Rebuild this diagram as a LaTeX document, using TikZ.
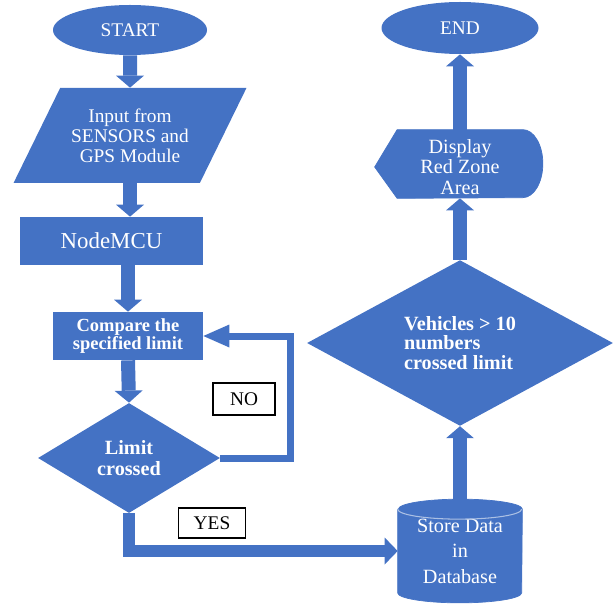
\documentclass[tikz,border=0pt]{standalone}
\usepackage{fontspec}
\setmainfont{Liberation Serif}
\usetikzlibrary{shapes.geometric,arrows.meta,backgrounds}
\definecolor{flowblue}{RGB}{68,114,196}
\tikzset{
  blk/.style={fill=flowblue, text=white, align=center, inner sep=1pt, font=\fontsize{11}{11.5}\selectfont},
  bigarr/.style={color=flowblue, line width=0.28cm, -{Triangle[length=0.24cm,width=0.56cm,line width=0pt]}},
  lbl/.style={draw=black, line width=0.6pt, fill=white, inner sep=1pt, font=\fontsize{11}{12}\selectfont}
}

\begin{document}
\begin{tikzpicture}
\useasboundingbox (0,0) rectangle (12.28,12.06);

% left column
\node[blk, ellipse, minimum width=3.08cm, minimum height=1cm] (start) at (2.60,11.46) {START};
\node[blk, trapezium, trapezium left angle=55, trapezium right angle=125, trapezium stretches=true,
  minimum width=4.66cm, minimum height=1.9cm] (inp) at (2.60,9.35) {Input from\\SENSORS and\\GPS Module};
\node[blk, minimum width=3.66cm, minimum height=0.96cm, font=\fontsize{13}{13}\selectfont] (mcu) at (2.23,7.24) {NodeMCU};
\node[blk, minimum width=3cm, minimum height=0.96cm, font=\bfseries\fontsize{10.5}{10.5}\selectfont] (cmp) at (2.56,5.34) {Compare the\\specified limit};
\node[blk, diamond, minimum width=3.64cm, minimum height=2.2cm, inner sep=0pt, font=\bfseries\fontsize{11.5}{11.5}\selectfont] (lim) at (2.58,2.90) {Limit\\crossed};

\node[lbl, minimum width=1.24cm, minimum height=0.64cm] (nolbl) at (4.88,4.08) {NO};
\node[lbl, minimum width=1.34cm, minimum height=0.60cm] (yeslbl) at (4.24,1.60) {YES};

% right column
\node[minimum width=2.48cm, minimum height=1.66cm, text=white, align=center, inner sep=0pt,
  font=\fontsize{11.5}{14.5}\selectfont] (db) at (9.20,1.04) {Store Data\\in\\Database};
\node[blk, diamond, minimum width=6.12cm, minimum height=3.2cm, inner sep=0pt, align=left,
  font=\bfseries\fontsize{11.5}{11.3}\selectfont] (veh) at (9.20,5.20) {Vehicles > 10\\numbers\\crossed limit};
\node[minimum width=2.5cm, minimum height=1.36cm, text=white, align=center, inner sep=0pt,
  font=\fontsize{11.5}{11.5}\selectfont] (disp) at (9.20,8.72) {Display\\Red Zone\\Area};
\node[blk, ellipse, minimum width=3.14cm, minimum height=1.04cm] (endn) at (9.20,11.50) {END};

\begin{scope}[on background layer]
\filldraw[flowblue, line width=0.4pt] ([xshift=-0.45cm]disp.west) -- ([yshift=0.06cm]disp.north west)
  -- ([yshift=0.06cm]disp.north east) arc[start angle=90, end angle=-90, x radius=0.4cm, y radius=0.68cm]
  -- ([yshift=0.06cm]disp.south west) -- cycle;
\filldraw[flowblue, line width=0.4pt] (db.north west) -- (db.south west)
  arc[start angle=180, end angle=360, x radius=1.24cm, y radius=0.2cm] -- (db.north east)
  arc[start angle=0, end angle=180, x radius=1.24cm, y radius=0.2cm] -- cycle;
\end{scope}
\draw[white!55!flowblue, line width=0.6pt] (db.north west)
  arc[start angle=180, end angle=360, x radius=1.24cm, y radius=0.2cm];

% arrows
\draw[bigarr] (start.south) -- (inp.north);
\draw[bigarr] (inp.south) -- (inp.south |- mcu.north);
\draw[bigarr] (mcu.south -| cmp.north) -- (cmp.north);
\draw[bigarr] (cmp.south) -- (lim.north);
\draw[color=flowblue, line width=0.14cm, -{Triangle[length=0.52cm,width=0.46cm,line width=0pt]}]
  (lim.east) -- ++(1.40,0) |- (cmp.east);
\draw[color=flowblue, line width=0.25cm, -{Triangle[length=0.26cm,width=0.54cm,line width=0pt]}]
  (lim.south) |- (db.west);
\draw[bigarr] (db.north) -- (veh.south);
\draw[bigarr] (veh.north) -- ([yshift=0.06cm]disp.south);
\draw[bigarr] ([yshift=0.06cm]disp.north) -- (endn.south);

\end{tikzpicture}
\end{document}
